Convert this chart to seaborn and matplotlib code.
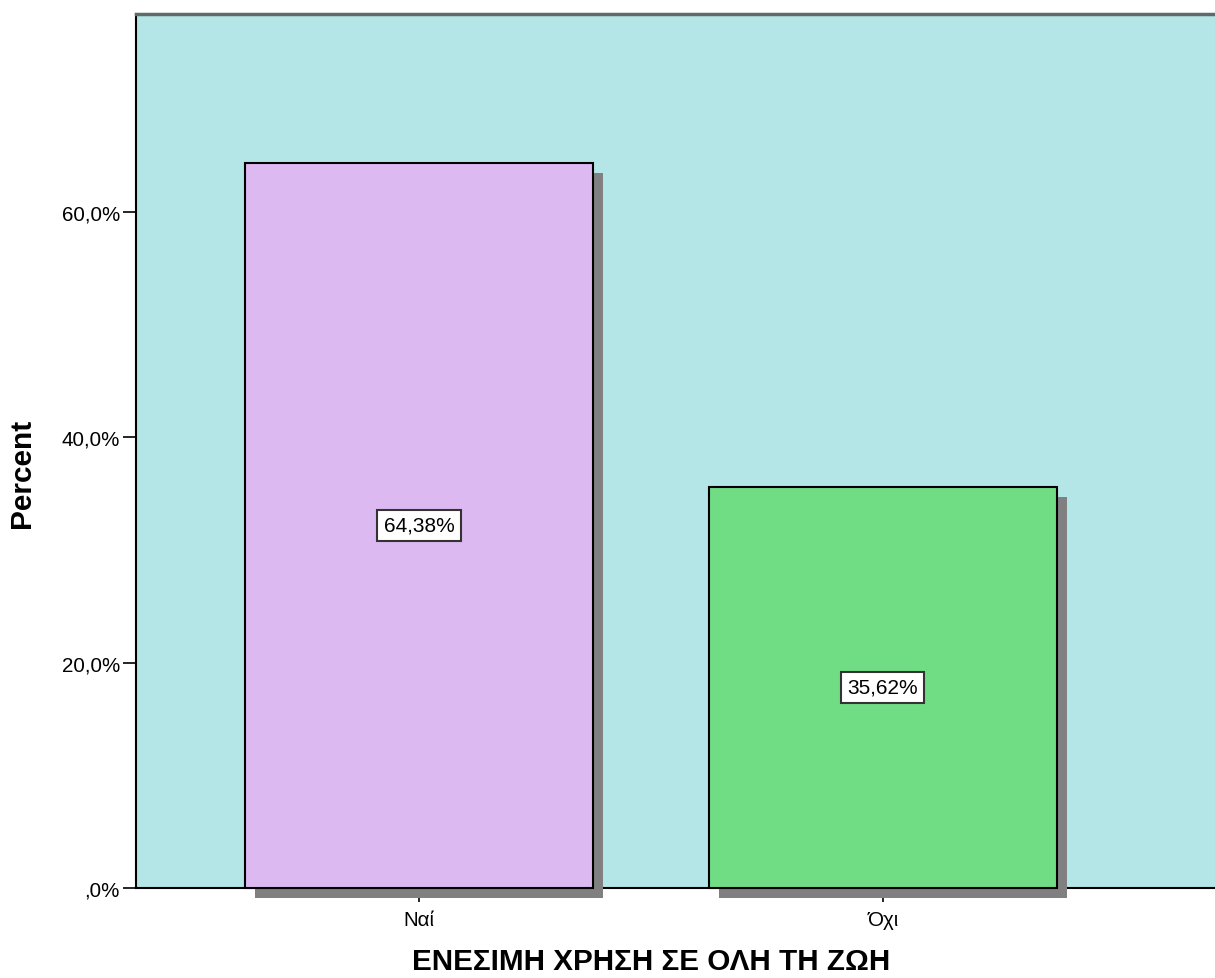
import matplotlib
matplotlib.use("Agg")
import matplotlib.pyplot as plt
import matplotlib.patheffects as pe
from matplotlib.ticker import FuncFormatter
import seaborn as sns

# data
categories = ["Ναί", "Όχι"]
percents = [64.38, 35.62]
bar_colors = ["#DDB9F2", "#70DD85"]
y_ticks = [0, 20, 40, 60]

sns.set_style("white")
plt.rcParams["font.family"] = ["Liberation Sans", "DejaVu Sans"]
plt.rcParams["text.color"] = "black"
plt.rcParams["axes.labelcolor"] = "black"
plt.rcParams["xtick.color"] = "black"
plt.rcParams["ytick.color"] = "black"

fig = plt.figure(figsize=(12.15, 9.79), dpi=100)
ax = fig.add_axes([0.1119, 0.0919, 0.8881, 0.8928])
ax.set_facecolor("#B4E5E7")

sns.barplot(x=categories, y=percents, hue=categories, palette=bar_colors,
            legend=False, width=0.75, edgecolor="black", linewidth=1.5,
            saturation=1, ax=ax, zorder=3)

# drop shadow like the SPSS chart
for bar in ax.patches:
    bar.set_clip_on(False)
    bar.set_path_effects([
        pe.SimplePatchShadow(offset=(7.2, -7.2), shadow_rgbFace="#808080", alpha=1.0),
        pe.Normal(),
    ])

# value boxes in the middle of each bar
for i, v in enumerate(percents):
    ax.text(i, v / 2, f"{v:.2f}%".replace(".", ","), ha="center", va="center",
            fontsize=15, color="black", zorder=5,
            bbox=dict(boxstyle="square,pad=0.3", fc="white", ec="#333333", lw=1.5))

ax.set_xlim(-0.61, 1.716)
ax.set_ylim(0, 77.6)
ax.set_yticks(y_ticks)


def pct_fmt(v, pos):
    s = f"{v:.1f}%".replace(".", ",")
    return s[1:] if s.startswith("0") else s


ax.yaxis.set_major_formatter(FuncFormatter(pct_fmt))
ax.tick_params(axis="y", length=9.5, width=1.2, colors="black", labelsize=14.8, pad=2, left=True)
ax.tick_params(axis="x", length=10, width=1.2, colors="black", labelsize=14.8, pad=6, bottom=True)

ax.set_xlabel("ΕΝΕΣΙΜΗ ΧΡΗΣΗ ΣΕ ΟΛΗ ΤΗ ΖΩΗ", fontsize=21.3, fontweight="bold", va="top")
ax.set_ylabel("Percent", fontsize=21.5, fontweight="bold")
ax.xaxis.set_label_coords(0.477, -0.068)
ax.yaxis.set_label_coords(-0.093, 0.475)

for side in ["left", "bottom"]:
    ax.spines[side].set_color("black")
    ax.spines[side].set_linewidth(1.5)
ax.spines["top"].set_color("#5f6b6b")
ax.spines["top"].set_linewidth(2.5)
ax.spines["right"].set_visible(False)

fig.savefig("out.png", dpi=100)
